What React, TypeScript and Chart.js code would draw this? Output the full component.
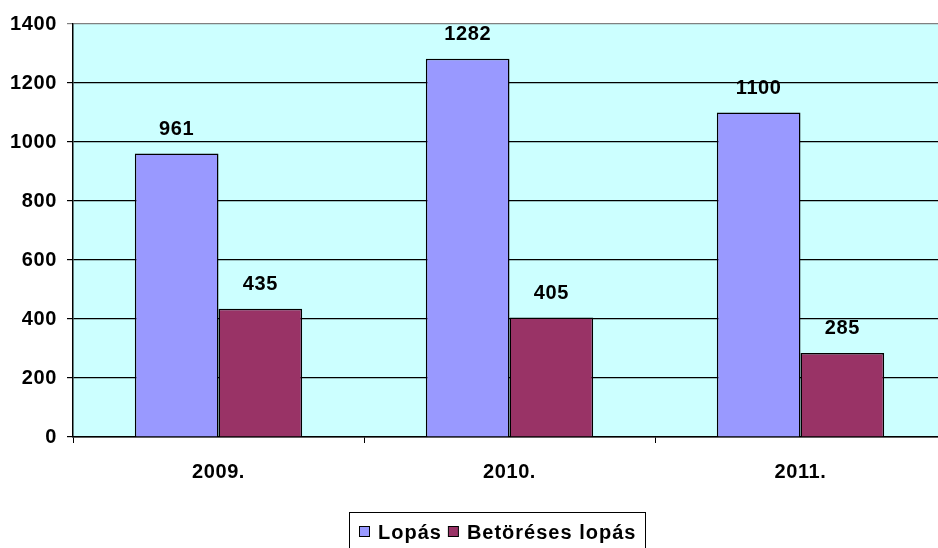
import React, { useEffect, useRef } from "react";
import { Chart, registerables } from "chart.js";

Chart.register(...registerables);

const categories = ["2009.", "2010.", "2011."];
const lopas = [961, 1282, 1100];
const betoreses = [435, 405, 285];
const seriesNames = ["Lopás", "Betöréses lopás"];
const yTicks = [0, 200, 400, 600, 800, 1000, 1200, 1400];

const FONT = "'Liberation Sans', Arial, sans-serif";
const SPACING = "0.6px";

const bgPlugin = {
  id: "bgPlugin",
  beforeDraw(chart: any) {
    const { ctx, chartArea } = chart;
    (ctx as any).letterSpacing = SPACING;
    ctx.save();
    ctx.fillStyle = "#CCFFFF";
    ctx.fillRect(chartArea.left, chartArea.top, chartArea.right - chartArea.left, chartArea.bottom - chartArea.top);
    ctx.restore();
  },
};

const labelPlugin = {
  id: "labelPlugin",
  afterDatasetsDraw(chart: any) {
    const { ctx } = chart;
    ctx.save();
    ctx.font = `bold 20px ${FONT}`;
    (ctx as any).letterSpacing = SPACING;
    ctx.fillStyle = "#000";
    ctx.textAlign = "center";
    ctx.textBaseline = "middle";
    chart.data.datasets.forEach((ds: any, di: number) => {
      const meta = chart.getDatasetMeta(di);
      meta.data.forEach((bar: any, i: number) => {
        ctx.fillText(String(ds.data[i]), bar.x, bar.y - 24);
      });
    });
    ctx.restore();
  },
};

const legendPlugin = {
  id: "legendPlugin",
  afterDraw(chart: any) {
    const { ctx } = chart;
    ctx.save();
    ctx.strokeStyle = "#000";
    ctx.lineWidth = 1;
    ctx.strokeRect(349.5, 512.5, 296, 50);
    ctx.font = `bold 20px ${FONT}`;
    (ctx as any).letterSpacing = "1px";
    ctx.textBaseline = "middle";
    ctx.textAlign = "left";
    let x = 359;
    const y = 532;
    chart.data.datasets.forEach((ds: any) => {
      ctx.fillStyle = ds.backgroundColor;
      ctx.fillRect(x + 0.5, y - 5.5, 10, 10);
      ctx.strokeStyle = "#000";
      ctx.strokeRect(x + 0.5, y - 5.5, 10, 10);
      ctx.fillStyle = "#000";
      ctx.fillText(ds.label, x + 19, y + 1);
      x += 19 + ctx.measureText(ds.label).width + 6;
    });
    ctx.restore();
  },
};

export default function App() {
  const ref = useRef<HTMLCanvasElement | null>(null);
  useEffect(() => {
    document.body.style.margin = "0";
    document.body.style.overflow = "hidden";
    const chart = new Chart(ref.current!, {
      type: "bar",
      data: {
        labels: categories,
        datasets: [
          {
            label: seriesNames[0],
            data: lopas,
            backgroundColor: "#9999FF",
            borderColor: "#000",
            borderWidth: 1.5,
            categoryPercentage: 0.575,
            barPercentage: 1,
          },
          {
            label: seriesNames[1],
            data: betoreses,
            backgroundColor: "#993366",
            borderColor: "#000",
            borderWidth: 1.5,
            categoryPercentage: 0.575,
            barPercentage: 1,
          },
        ],
      },
      options: {
        responsive: false,
        animation: false,
        layout: { padding: { top: 24, right: 0, left: 0, bottom: 0 } },
        plugins: { legend: { display: false }, tooltip: { enabled: false } },
        scales: {
          x: {
            afterFit: (s: any) => {
              s.height = 111;
            },
            grid: {
              offset: true,
              drawOnChartArea: false,
              drawTicks: true,
              tickLength: 6,
              color: "#000",
            },
            border: { color: "#000", width: 1.5 },
            ticks: {
              padding: 17,
              color: "#000",
              font: { family: FONT, size: 20, weight: "bold" },
            },
          },
          y: {
            min: 0,
            max: 1400,
            afterFit: (s: any) => {
              s.width = 73;
            },
            afterBuildTicks: (s: any) => {
              s.ticks = yTicks.map((v) => ({ value: v }));
            },
            grid: {
              color: (c: any) => (c.tick && c.tick.value === 1400 ? "#808080" : "#000"),
              lineWidth: 1.2,
              tickLength: 6,
            },
            border: { color: "#000", width: 1.5 },
            ticks: {
              padding: 10,
              color: "#000",
              font: { family: FONT, size: 20, weight: "bold" },
              callback: (v: any) => String(v),
            },
          },
        },
      },
      plugins: [bgPlugin, labelPlugin, legendPlugin],
    });
    return () => chart.destroy();
  }, []);
  return (
    <div style={{ width: 938, height: 548, overflow: "hidden" }}>
      <canvas ref={ref} width={946} height={548} style={{ display: "block" }} />
    </div>
  );
}
